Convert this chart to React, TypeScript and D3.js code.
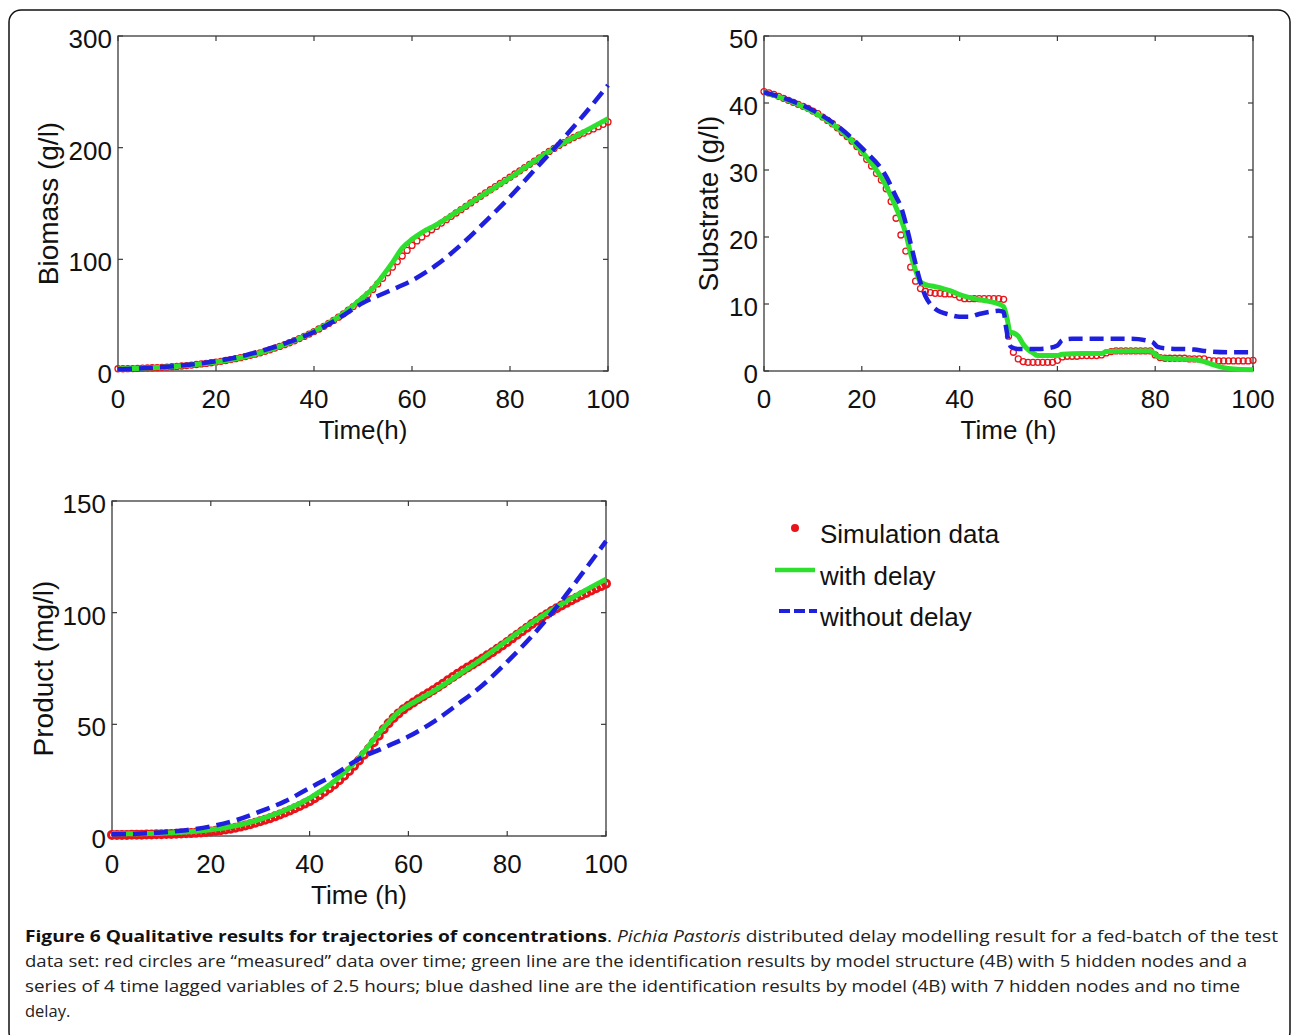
import { useRef, useEffect } from 'react';
import * as d3 from 'd3';

// sampling grid of the "measured" data (hours)
const simTime = d3.range(0, 101);

const biomassSim = [
  2.0, 2.0, 2.1, 2.2, 2.3, 2.5, 2.7, 2.9, 3.1, 3.3, 3.5,
  3.8, 4.1, 4.5, 4.9, 5.3, 5.8, 6.3, 6.8, 7.4, 8.0,
  8.7, 9.4, 10.2, 11.0, 11.9, 12.9, 14.0, 15.1, 16.3, 17.6,
  19.0, 20.5, 22.0, 23.6, 25.3, 27.1, 29.0, 31.0, 33.1, 35.3,
  37.6, 40.0, 42.6, 45.3, 48.2, 51.2, 54.4, 57.7, 61.0, 64.5,
  68.5, 73.0, 78.0, 83.0, 88.0, 93.0, 98.0, 103.0, 108.0, 112.5,
  116.5, 120.0, 123.3, 126.5, 129.5, 132.5, 135.5, 138.5, 141.5, 144.5,
  147.5, 150.5, 153.5, 156.5, 159.5, 162.3, 165.1, 167.9, 170.7, 173.5,
  176.4, 179.3, 182.2, 185.1, 188.0, 190.9, 193.8, 196.6, 199.3, 202.0,
  204.5, 206.9, 209.1, 211.1, 213.0, 214.9, 216.8, 218.8, 220.9, 223.0,
];
const biomassDelayT = [0, 5, 10, 15, 20, 25, 30, 35, 40, 45, 50, 52, 54, 56, 58, 60, 62, 65, 70, 75, 80, 85, 90, 95, 100];
const biomassDelay = [1.8, 2.5, 3.5, 5.3, 8.0, 11.9, 17.6, 25.3, 35.3, 48.5, 66, 74, 85, 97, 110, 118, 124, 131, 145, 159, 173, 188, 202, 214, 226];
const biomassNoDelayT = [0, 5, 10, 15, 20, 25, 30, 35, 40, 45, 50, 55, 60, 65, 70, 75, 80, 85, 90, 95, 100];
const biomassNoDelay = [1.5, 2.5, 3.8, 5.8, 8.8, 13.0, 19.0, 26.0, 35.0, 47.0, 61.0, 71.0, 81.0, 95.0, 113.0, 134.0, 156.0, 180.0, 204.0, 229.0, 256.0];

const substrateSim = [
  41.7, 41.5, 41.3, 41.0, 40.7, 40.4, 40.1, 39.8, 39.5, 39.2, 38.8,
  38.4, 37.9, 37.4, 36.9, 36.3, 35.6, 35.0, 34.3, 33.5, 32.6,
  31.6, 30.6, 29.5, 28.5, 27.2, 25.3, 22.8, 20.3, 17.9, 15.5,
  13.4, 12.3, 11.9, 11.7, 11.6, 11.6, 11.5, 11.5, 11.4, 11.0,
  10.8, 10.8, 10.8, 10.8, 10.8, 10.8, 10.8, 10.8, 10.7, 5.2,
  2.8, 1.8, 1.4, 1.3, 1.3, 1.3, 1.3, 1.3, 1.3, 1.6,
  2.1, 2.2, 2.2, 2.2, 2.3, 2.3, 2.3, 2.3, 2.4, 2.7,
  2.9, 3.0, 3.0, 3.0, 3.0, 3.0, 3.0, 3.0, 3.0, 2.4,
  2.0, 1.9, 1.9, 1.9, 1.9, 1.9, 1.8, 1.8, 1.8, 1.8,
  1.6, 1.5, 1.5, 1.5, 1.5, 1.5, 1.5, 1.5, 1.5, 1.6,
];
const substrateDelayT = [0, 5, 10, 15, 20, 25, 27, 29, 30, 31, 32, 33, 35, 38, 40, 43, 46, 48, 49, 49.8, 50.3, 51, 52, 53, 54, 55, 56, 60, 61, 65, 69, 70, 75, 79, 80.5, 82, 88, 90, 92, 94, 96, 100];
const substrateDelay = [41.6, 40.4, 38.7, 36.3, 32.8, 27.6, 24.4, 20.5, 17.5, 15.0, 13.3, 12.9, 12.6, 12.0, 11.4, 10.8, 10.4, 10.0, 9.6, 7.5, 5.8, 5.7, 5.2, 4.0, 3.2, 2.7, 2.3, 2.3, 2.5, 2.6, 2.6, 2.9, 3.0, 3.0, 2.2, 1.9, 1.7, 1.4, 0.9, 0.5, 0.3, 0.2];
const substrateNoDelayT = [0, 5, 10, 15, 20, 25, 27, 28, 29, 30, 31, 32, 33, 34, 35, 38, 40, 42, 44, 46, 48, 49, 49.5, 50, 50.5, 52, 56, 58, 60, 61, 63, 70, 75, 78, 79.5, 80.5, 82, 88, 90, 95, 100];
const substrateNoDelay = [41.6, 40.5, 38.9, 36.6, 33.3, 29.0, 26.0, 24.5, 22.0, 19.0, 16.0, 13.2, 11.2, 10.0, 9.3, 8.4, 8.1, 8.1, 8.5, 8.8, 9.0, 8.8, 6.5, 4.5, 3.6, 3.3, 3.3, 3.4, 3.8, 4.6, 4.8, 4.8, 4.8, 4.6, 4.3, 3.6, 3.4, 3.2, 3.0, 2.8, 2.8];

const productSim = [
  0.5, 0.5, 0.5, 0.5, 0.6, 0.6, 0.6, 0.7, 0.7, 0.8, 0.8,
  0.9, 0.9, 1.0, 1.1, 1.2, 1.3, 1.4, 1.6, 1.8, 2.0,
  2.3, 2.6, 2.9, 3.3, 3.7, 4.2, 4.7, 5.3, 5.9, 6.6,
  7.3, 8.0, 8.8, 9.6, 10.5, 11.4, 12.4, 13.4, 14.5, 15.6,
  16.9, 18.3, 19.8, 21.4, 23.1, 25.0, 27.0, 29.1, 31.4, 33.8,
  36.4, 39.1, 42.0, 44.9, 47.8, 50.5, 52.8, 54.9, 56.7, 58.3,
  59.8, 61.2, 62.6, 63.9, 65.3, 66.7, 68.2, 69.7, 71.2, 72.7,
  74.1, 75.5, 76.8, 78.1, 79.5, 80.9, 82.3, 83.8, 85.3, 86.9,
  88.5, 90.1, 91.7, 93.3, 94.9, 96.4, 97.9, 99.3, 100.7, 102.0,
  103.2, 104.4, 105.6, 106.7, 107.8, 108.8, 109.9, 110.9, 111.9, 113.0,
];
const productDelayT = [0, 5, 10, 15, 20, 25, 30, 35, 40, 45, 50, 52, 54, 56, 58, 60, 62, 65, 70, 75, 80, 85, 90, 95, 100];
const productDelay = [1.0, 1.0, 1.2, 1.8, 2.8, 4.6, 7.5, 11.5, 17.0, 24.5, 35.0, 40.5, 46.0, 51.0, 55.5, 58.5, 61.0, 64.8, 72.0, 79.5, 87.5, 95.5, 102.5, 109.0, 115.0];
const productNoDelayT = [0, 5, 10, 15, 20, 25, 30, 35, 40, 45, 50, 55, 60, 65, 70, 75, 80, 85, 90, 95, 100];
const productNoDelay = [0.8, 1.0, 1.6, 2.6, 4.3, 7.0, 11.0, 15.5, 21.5, 27.5, 34.5, 39.5, 44.5, 51.0, 59.0, 67.5, 78.0, 89.5, 102.5, 117.0, 132.0];

const timeTicks = [0, 20, 40, 60, 80, 100];
const legendLabels = ['Simulation data', 'with delay', 'without delay'];

const captionBold = 'Figure 6 Qualitative results for trajectories of concentrations';
const captionItalic = 'Pichia Pastoris';
const captionLines = [
  ' distributed delay modelling result for a fed-batch of the test',
  'data set: red circles are \u201cmeasured\u201d data over time; green line are the identification results by model structure (4B) with 5 hidden nodes and a',
  'series of 4 time lagged variables of 2.5 hours; blue dashed line are the identification results by model (4B) with 7 hidden nodes and no time',
  'delay.',
];

const RED = '#e8141a';
const GREEN = '#2de02d';
const BLUE = '#1f1fe0';
const AXIS_FONT = '"Liberation Sans", Arial, sans-serif';

interface PanelSpec {
  left: number; right: number; top: number; bottom: number;
  yMax: number; yTicks: number[];
  yTitle: string; xTitle: string; yTitleX: number;
  sim: number[]; delayT: number[]; delay: number[]; noDelayT: number[]; noDelay: number[];
  markerR: number; markerWidth: number;
}

const panels: PanelSpec[] = [
  {
    left: 118, right: 608, top: 36, bottom: 371, yMax: 300, yTicks: [0, 100, 200, 300],
    yTitle: 'Biomass (g/l)', xTitle: 'Time(h)', yTitleX: 58,
    sim: biomassSim, delayT: biomassDelayT, delay: biomassDelay, noDelayT: biomassNoDelayT, noDelay: biomassNoDelay,
    markerR: 3, markerWidth: 1.3,
  },
  {
    left: 764, right: 1253, top: 36, bottom: 371, yMax: 50, yTicks: [0, 10, 20, 30, 40, 50],
    yTitle: 'Substrate (g/l)', xTitle: 'Time (h)', yTitleX: 718,
    sim: substrateSim, delayT: substrateDelayT, delay: substrateDelay, noDelayT: substrateNoDelayT, noDelay: substrateNoDelay,
    markerR: 3, markerWidth: 1.3,
  },
  {
    left: 112, right: 606, top: 501, bottom: 836, yMax: 150, yTicks: [0, 50, 100, 150],
    yTitle: 'Product (mg/l)', xTitle: 'Time (h)', yTitleX: 53,
    sim: productSim, delayT: productDelayT, delay: productDelay, noDelayT: productNoDelayT, noDelay: productNoDelay,
    markerR: 3.5, markerWidth: 3,
  },
];

function drawPanel(svg: d3.Selection<SVGSVGElement, unknown, null, undefined>, p: PanelSpec) {
  const x = d3.scaleLinear().domain([0, 100]).range([p.left, p.right]);
  const y = d3.scaleLinear().domain([0, p.yMax]).range([p.bottom, p.top]);
  const g = svg.append('g');
  const tick = 5;

  g.append('rect')
    .attr('x', p.left).attr('y', p.top)
    .attr('width', p.right - p.left).attr('height', p.bottom - p.top)
    .attr('fill', '#fff').attr('stroke', '#3a3a3a').attr('stroke-width', 1.3);

  // ticks inside on all four sides (MATLAB box)
  timeTicks.forEach((t) => {
    g.append('line').attr('x1', x(t)).attr('x2', x(t)).attr('y1', p.bottom).attr('y2', p.bottom - tick)
      .attr('stroke', '#3a3a3a').attr('stroke-width', 1.2);
    g.append('line').attr('x1', x(t)).attr('x2', x(t)).attr('y1', p.top).attr('y2', p.top + tick)
      .attr('stroke', '#3a3a3a').attr('stroke-width', 1.2);
    g.append('text').attr('x', x(t)).attr('y', p.bottom + 37)
      .attr('text-anchor', 'middle').attr('font-family', AXIS_FONT).attr('font-size', 26).attr('fill', '#111')
      .text(t);
  });
  p.yTicks.forEach((v) => {
    g.append('line').attr('x1', p.left).attr('x2', p.left + tick).attr('y1', y(v)).attr('y2', y(v))
      .attr('stroke', '#3a3a3a').attr('stroke-width', 1.2);
    g.append('line').attr('x1', p.right).attr('x2', p.right - tick).attr('y1', y(v)).attr('y2', y(v))
      .attr('stroke', '#3a3a3a').attr('stroke-width', 1.2);
    g.append('text').attr('x', p.left - 6).attr('y', y(v) + 12)
      .attr('text-anchor', 'end').attr('font-family', AXIS_FONT).attr('font-size', 26).attr('fill', '#111')
      .text(v);
  });

  g.append('text')
    .attr('x', (p.left + p.right) / 2).attr('y', p.bottom + 68)
    .attr('text-anchor', 'middle').attr('font-family', AXIS_FONT).attr('font-size', 26).attr('fill', '#111')
    .text(p.xTitle);
  g.append('text')
    .attr('transform', `translate(${p.yTitleX},${(p.top + p.bottom) / 2}) rotate(-90)`)
    .attr('text-anchor', 'middle').attr('font-family', AXIS_FONT).attr('font-size', 28).attr('fill', '#111')
    .text(p.yTitle);

  // simulation data: open red circles
  g.append('g').selectAll('circle')
    .data(p.sim)
    .join('circle')
    .attr('cx', (_, i) => x(simTime[i]))
    .attr('cy', (d) => y(d))
    .attr('r', p.markerR)
    .attr('fill', 'none')
    .attr('stroke', RED)
    .attr('stroke-width', p.markerWidth);

  const line = d3.line<[number, number]>()
    .x((d) => x(d[0]))
    .y((d) => y(d[1]))
    .curve(d3.curveMonotoneX);

  g.append('path')
    .datum(p.delayT.map((t, i) => [t, p.delay[i]] as [number, number]))
    .attr('d', line)
    .attr('fill', 'none').attr('stroke', GREEN).attr('stroke-width', 5);

  g.append('path')
    .datum(p.noDelayT.map((t, i) => [t, p.noDelay[i]] as [number, number]))
    .attr('d', line)
    .attr('fill', 'none').attr('stroke', BLUE).attr('stroke-width', 4.5)
    .attr('stroke-dasharray', '14,7');
}

export default function App() {
  const svgRef = useRef<SVGSVGElement>(null);

  useEffect(() => {
    if (!svgRef.current) return;
    const svg = d3.select(svgRef.current);
    svg.selectAll('*').remove();

    svg.append('rect').attr('width', 1293).attr('height', 1035).attr('fill', '#fff');
    svg.append('rect')
      .attr('x', 9).attr('y', 10).attr('width', 1281).attr('height', 1034).attr('rx', 12)
      .attr('fill', 'none').attr('stroke', '#111').attr('stroke-width', 1.5);

    panels.forEach((p) => drawPanel(svg, p));

    // legend
    const lg = svg.append('g').attr('font-family', AXIS_FONT).attr('font-size', 26).attr('fill', '#111');
    lg.append('circle').attr('cx', 795).attr('cy', 528).attr('r', 4).attr('fill', RED);
    lg.append('line').attr('x1', 775).attr('x2', 815).attr('y1', 570).attr('y2', 570)
      .attr('stroke', GREEN).attr('stroke-width', 4.5);
    lg.append('line').attr('x1', 779).attr('x2', 817).attr('y1', 611).attr('y2', 611)
      .attr('stroke', BLUE).attr('stroke-width', 4).attr('stroke-dasharray', '11,4');
    [543, 585, 626].forEach((by, i) => {
      lg.append('text').attr('x', 820).attr('y', by).text(legendLabels[i]);
    });

    // caption
    const cap = svg.append('g').attr('font-family', '"Open Sans", sans-serif').attr('font-size', 16.5).attr('fill', '#222');
    const widths = [1253, 1222, 1215];
    const first = cap.append('text').attr('x', 25).attr('y', 942)
      .attr('textLength', widths[0]).attr('lengthAdjust', 'spacingAndGlyphs');
    first.append('tspan').attr('font-weight', 700).attr('fill', '#111').text(captionBold);
    first.append('tspan').text('. ');
    first.append('tspan').attr('font-style', 'italic').text(captionItalic);
    first.append('tspan').text(captionLines[0]);
    [967, 992].forEach((by, i) => {
      cap.append('text').attr('x', 25).attr('y', by)
        .attr('textLength', widths[i + 1]).attr('lengthAdjust', 'spacingAndGlyphs')
        .text(captionLines[i + 1]);
    });
    cap.append('text').attr('x', 25).attr('y', 1017).text(captionLines[3]);
  }, []);

  return (
    <svg
      ref={svgRef}
      width={1293}
      height={1035}
      style={{ position: 'absolute', left: 0, top: 0, display: 'block' }}
    />
  );
}
